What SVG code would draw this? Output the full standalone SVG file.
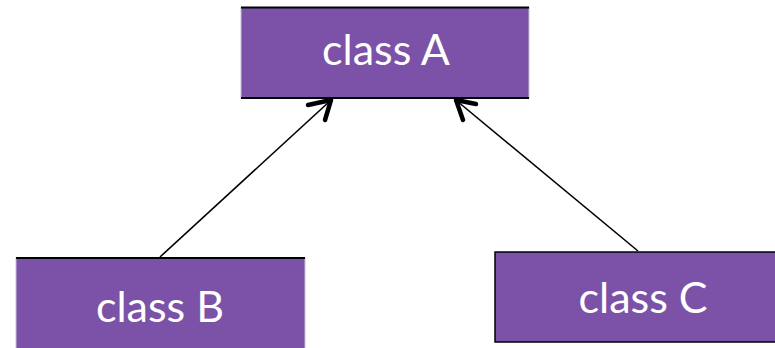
<svg xmlns="http://www.w3.org/2000/svg" width="775" height="348" viewBox="0 0 775 348">
<style>
.box{fill:#7b52a8;stroke:#000;stroke-width:1.5}
.fill{fill:#7b52a8;stroke:#c8c0d8;stroke-width:1}
.rule{stroke:#000;stroke-width:1.8}
.lbl{fill:#fff;font-family:Lato,"Open Sans",sans-serif;font-size:43px;text-anchor:middle}
.edge{stroke:#000;stroke-width:1.6;fill:none}
.head{stroke:#000;stroke-width:4.5;fill:none;stroke-linecap:round;stroke-linejoin:round}
</style>
<rect width="775" height="348" fill="#fff"/>
<g id="classA">
<rect class="fill" x="241" y="7.5" width="288" height="90.5"/>
<line class="rule" x1="241" y1="7.5" x2="529" y2="7.5"/>
<line class="rule" x1="241" y1="98" x2="529" y2="98"/>
<text class="lbl" x="386" y="65">class A</text>
</g>
<g id="classB">
<rect class="fill" x="16" y="258" width="289" height="95"/>
<line class="rule" x1="16" y1="258" x2="305" y2="258"/>
<text class="lbl" x="160" y="322">class B</text>
</g>
<g id="classC">
<rect class="box" x="495" y="252" width="285" height="90"/>
<text class="lbl" x="643" y="313">class C</text>
</g>
<g id="connectors">
<line class="edge" x1="160" y1="257" x2="330" y2="101"/>
<polyline class="head" points="308,105 331,100 325,120"/>
<line class="edge" x1="638" y1="251" x2="457" y2="101"/>
<polyline class="head" points="476,104 456,100 463,120"/>
</g>
</svg>
